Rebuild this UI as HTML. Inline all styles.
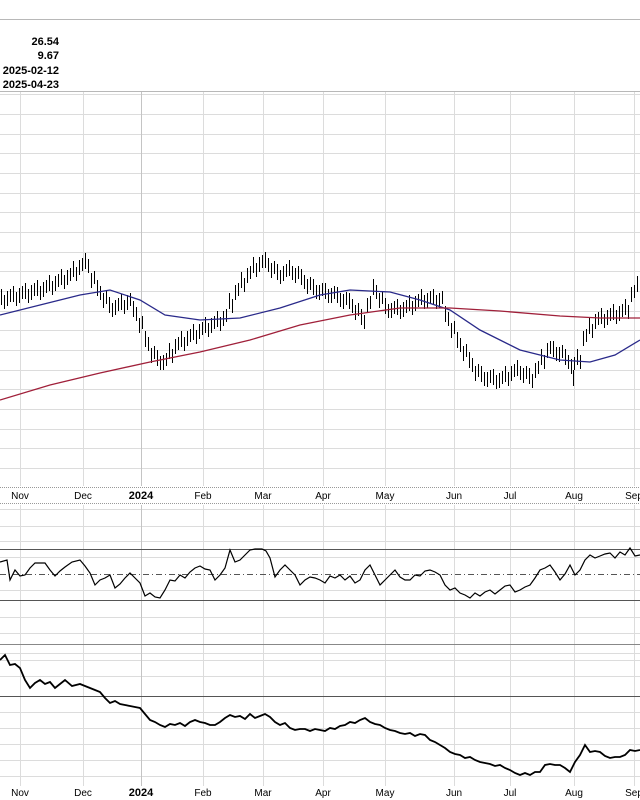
<!DOCTYPE html>
<html><head><meta charset="utf-8">
<style>
html,body{margin:0;padding:0;background:#fff;}
svg{display:block;font-family:"Liberation Sans",Arial,sans-serif;}
</style></head>
<body>
<svg width="640" height="800" viewBox="0 0 640 800" xmlns="http://www.w3.org/2000/svg">
<line x1="0" y1="19.5" x2="640" y2="19.5" stroke="#b8b8b8"/>
<g font-size="11" font-weight="bold" text-anchor="end" fill="#000">
<text x="59" y="45">26.54</text>
<text x="59" y="59">9.67</text>
<text x="59" y="74">2025-02-12</text>
<text x="59" y="88">2025-04-23</text>
</g>
<g stroke="#dcdcdc" stroke-width="1">
<path d="M0,94.5H640M0,114.5H640M0,134.5H640M0,153.5H640M0,173.5H640M0,193.5H640M0,212.5H640M0,232.5H640M0,252.5H640M0,271.5H640M0,291.5H640M0,311.5H640M0,330.5H640M0,350.5H640M0,370.5H640M0,389.5H640M0,409.5H640M0,429.5H640M0,448.5H640M0,468.5H640"/>
<path d="M0,509.5H640M0,526.5H640M0,541.5H640M0,557.5H640M0,590.5H640M0,617.5H640M0,633.5H640M0,653.5H640M0,660.5H640M0,676.5H640M0,712.5H640M0,728.5H640M0,744.5H640M0,760.5H640M0,776.5H640"/>
<path d="M20.5,91V486M83.5,91V486M203.5,91V486M263.5,91V486M323.5,91V486M385.5,91V486M454.5,91V486M510.5,91V486M574.5,91V486M634.5,91V486M20.5,505V786M83.5,505V786M203.5,505V786M263.5,505V786M323.5,505V786M385.5,505V786M454.5,505V786M510.5,505V786M574.5,505V786M634.5,505V786"/>
</g>
<path d="M141.5,91V486M141.5,505V786" stroke="#c4c4c4"/>
<line x1="0" y1="91.5" x2="640" y2="91.5" stroke="#b8b8b8"/>
<rect x="0" y="487" width="640" height="16" fill="#fff"/>
<path d="M0,487.5H640M0,503.5H640" stroke="#999" stroke-dasharray="1,1"/>
<g font-size="10" text-anchor="middle" fill="#000">
<text x="20" y="499">Nov</text><text x="83" y="499">Dec</text><text x="141" y="499" font-size="11" font-weight="bold">2024</text><text x="203" y="499">Feb</text><text x="263" y="499">Mar</text><text x="323" y="499">Apr</text><text x="385" y="499">May</text><text x="454" y="499">Jun</text><text x="510" y="499">Jul</text><text x="574" y="499">Aug</text><text x="634" y="499">Sep</text>
<text x="20" y="796">Nov</text><text x="83" y="796">Dec</text><text x="141" y="796" font-size="11" font-weight="bold">2024</text><text x="203" y="796">Feb</text><text x="263" y="796">Mar</text><text x="323" y="796">Apr</text><text x="385" y="796">May</text><text x="454" y="796">Jun</text><text x="510" y="796">Jul</text><text x="574" y="796">Aug</text><text x="634" y="796">Sep</text>
</g>
<path d="M0,549.5H640M0,600.5H640M0,696.5H640" stroke="#555"/>
<path d="M0,574.5H640" stroke="#555" stroke-dasharray="6,3,1,3"/>
<path d="M0,644.5H640" stroke="#888"/>

<path transform="translate(0.5,0)" stroke="#000" stroke-width="1" fill="none" d="M1,289V305M4,295V309M7,291V306M10,289V302M13,286V302M16,292V306M19,288V303M22,286V299M25,283V299M28,289V303M31,285V300M34,283V296M37,280V296M40,286V300M43,282V297M46,280V293M49,275V291M52,281V295M55,276V291M58,274V287M61,269V285M64,275V289M67,270V285M70,268V281M73,261V277M76,267V281M79,260V275M82,258V271M85,253V269M88,259V273M91,273V288M94,271V284M97,280V296M100,286V300M103,293V308M106,291V304M109,297V313M112,303V317M115,300V315M118,298V311M121,294V310M124,300V314M127,295V310M130,293V306M133,301V317M136,307V321M139,318V333M142,316V329M145,331V347M148,337V351M151,348V363M154,346V359M157,350V366M160,356V370M163,355V370M166,353V366M169,343V359M172,349V363M175,339V354M178,337V350M181,331V347M184,337V351M187,331V346M190,329V342M193,324V340M196,330V344M199,324V339M202,322V335M205,317V333M208,323V337M211,318V333M214,316V329M217,311V327M220,317V331M223,311V326M226,309V322M229,293V309M232,299V313M235,285V300M238,283V296M241,272V288M244,278V292M247,268V283M250,266V279M253,257V273M256,263V277M259,257V272M262,255V268M265,252V268M268,258V272M271,263V278M274,261V274M277,264V280M280,270V284M283,266V281M286,264V277M289,260V276M292,266V280M295,268V283M298,266V279M301,269V285M304,275V289M307,279V294M310,277V290M313,279V295M316,285V299M319,285V300M322,283V296M325,283V299M328,289V303M331,288V303M334,286V299M337,287V303M340,293V307M343,294V309M346,292V305M349,293V309M352,299V313M355,305V320M358,303V316M361,309V325M364,315V329M367,298V313M370,296V309M373,279V295M376,285V299M379,293V308M382,291V304M385,298V314M388,304V318M391,303V318M394,301V314M397,299V315M400,305V319M403,302V317M406,300V313M409,295V311M412,301V315M415,296V311M418,294V307M421,289V305M424,295V309M427,293V308M430,291V304M433,289V305M436,295V309M439,293V308M442,291V304M445,306V322M448,312V326M451,323V338M454,321V334M457,332V348M460,338V352M463,346V361M466,344V357M469,352V368M472,358V372M475,366V381M478,364V377M481,366V382M484,372V386M487,372V387M490,370V383M493,369V385M496,375V389M499,373V388M502,371V384M505,366V382M508,372V386M511,366V381M514,364V377M517,360V376M520,366V380M523,368V383M526,366V379M529,368V384M532,374V388M535,363V378M538,361V374M541,349V365M544,355V369M547,343V358M550,341V354M553,341V357M556,347V361M559,347V362M562,345V358M565,349V365M568,355V369M571,359V374M573,370V386M574,357V370M577,349V365M580,355V369M583,331V346M586,329V342M589,318V334M592,324V338M595,314V329M598,312V325M601,308V324M604,314V328M607,310V325M610,308V321M613,304V320M616,310V324M619,306V321M622,304V317M625,299V315M628,305V319M631,287V302M634,285V298M637,276V292M640,282V296"/>

<polyline fill="none" stroke="#2a2a8a" stroke-width="1.3" points="0,315 40,305 80,295 110,290 140,300 165,315 200,320 240,318 280,308 320,295 350,290 390,292 420,300 450,310 480,330 520,350 560,360 590,362 615,355 640,340"/>
<polyline fill="none" stroke="#a0203a" stroke-width="1.3" points="0,400 50,385 100,373 150,362 200,352 250,340 300,325 350,315 400,308 450,308 500,311 560,316 600,318 640,318"/>

<polyline fill="none" stroke="#000" stroke-width="1.2" points="0,562 7,560 10,580 15,570 20,576 25,575 30,568 35,563 40,563 45,563 50,570 55,576 60,571 65,567 72,562 80,560 85,566 90,573 95,585 100,580 105,578 110,575 115,588 120,584 125,578 130,573 135,578 140,583 145,596 150,593 155,597 160,598 165,590 170,580 175,581 180,575 185,578 190,572 195,568 200,566 205,569 210,570 215,580 220,575 225,568 230,550 235,562 240,560 245,555 250,550 255,549 262,549 266,551 270,558 275,577 280,570 285,565 290,570 295,575 300,585 305,580 310,577 315,578 320,580 325,583 330,576 335,578 340,575 345,580 350,576 355,583 360,580 365,570 370,565 375,575 380,585 385,580 390,575 395,570 400,577 405,580 410,580 415,575 420,576 425,571 430,570 435,572 440,575 445,585 450,590 455,588 460,593 465,595 470,598 475,593 480,596 485,592 490,590 495,594 500,590 505,586 510,585 515,592 520,590 525,587 530,585 535,578 540,570 545,568 550,565 555,572 560,580 565,574 570,565 575,575 580,570 585,560 590,555 595,558 600,556 605,554 610,553 615,558 620,552 625,555 630,548 635,556 640,555"/>

<polyline fill="none" stroke="#000" stroke-width="1.8" points="0,660 5,655 10,665 15,664 20,668 25,680 30,688 35,683 40,680 45,684 50,682 55,688 60,684 65,680 72,686 80,684 85,686 90,688 95,690 100,692 105,698 110,703 115,701 120,704 125,705 130,706 135,707 140,708 145,714 150,720 155,722 160,725 165,727 170,724 175,725 180,723 185,726 190,722 195,720 200,722 205,723 210,725 215,725 220,722 225,718 230,715 235,717 240,716 245,719 250,714 255,718 260,716 265,714 270,717 275,722 280,725 285,723 290,728 295,730 300,729 305,729 310,731 315,729 320,730 325,731 330,728 335,729 340,726 345,725 350,722 355,723 360,720 365,718 370,722 375,724 380,725 385,728 390,730 395,731 400,733 405,734 410,733 415,736 420,734 425,735 430,740 435,742 440,745 445,748 450,752 455,754 460,755 465,758 470,757 475,760 480,762 485,763 490,764 495,766 500,765 505,768 510,770 515,773 520,775 525,773 530,775 535,772 540,772 545,765 550,764 555,765 560,765 565,768 570,772 575,762 580,755 585,745 590,752 595,751 600,752 605,756 610,758 615,757 620,757 625,755 630,750 635,751 640,750"/>
</svg>
</body></html>
